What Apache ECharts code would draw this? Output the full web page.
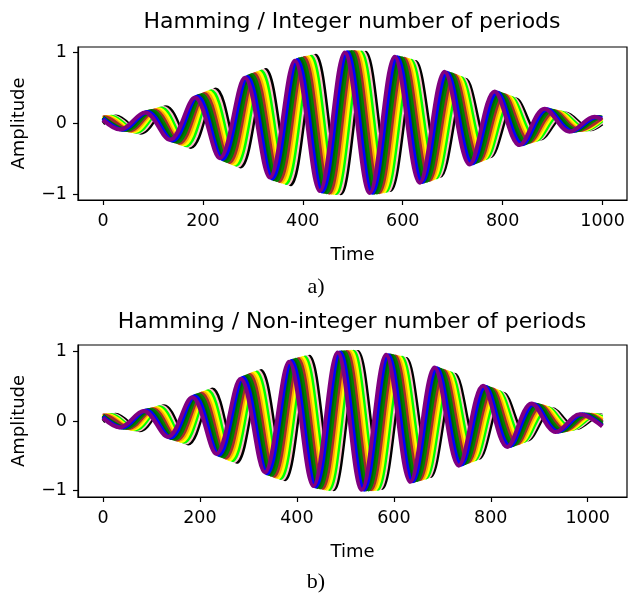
<!DOCTYPE html>
<html><head><meta charset="utf-8">
<script src="https://cdn.jsdelivr.net/npm/echarts@6/dist/echarts.min.js"></script>
<style>html,body{margin:0;padding:0;background:#fff}#c{width:628px;height:601px}</style>
</head><body><div id="c"></div>
<script>
// ---- data ----
const colors = ['#000000','#ffc0cb','#00ff00','#ffff00','#ffa500','#a52a2a','#008000','#006400','#0000ff','#800080'];
const shifts = [42, 37, 33, 28, 23, 19, 14, 9, 5, 0];   // horizontal offset of each curve vs. the purple one
const xTicks = [0, 200, 400, 600, 800, 1000];
const yTicks = [-1, 0, 1];

// (a) integer number of periods
const topEnd = 999;
const topEnvX = [0,50,100,150,200,250,300,350,400,450,500,550,600,650,700,750,800,850,900,950,1000];
const topEnvY = [0.08,0.10,0.17,0.27,0.40,0.54,0.68,0.81,0.91,0.98,1.00,0.98,0.91,0.81,0.68,0.54,0.40,0.27,0.17,0.10,0.08];
const topExtX = [-66,-16,34,84,134,184,234,284,334,384,434,484,534,584,634,684,734,784,834,884,934,984,1034,1084];
const topStartY = [-0.005,0.020,0.039,0.058,0.072,0.079,0.079,0.072,0.062,0.043];
const topEndY   = [-0.010,0.015,0.034,0.055,0.070,0.078,0.080,0.074,0.065,0.047];

// (b) non-integer number of periods
const botEnd = 1030;
const botEnvX = [0,52,103,155,206,258,309,361,412,464,515,566,618,669,721,772,824,875,927,978,1030];
const botEnvY = [0.08,0.10,0.17,0.27,0.40,0.54,0.68,0.81,0.91,0.98,1.00,0.98,0.91,0.81,0.68,0.54,0.40,0.27,0.17,0.10,0.08];
const botExtX = [-66,-16,34,84,134,184,234,284,334,384,434,484,534,584,634,684,734,784,834,884,934,984,1034,1084];
const botStartY = [-0.005,0.020,0.039,0.058,0.072,0.079,0.079,0.072,0.062,0.043];
const botEndY   = [0.078,0.068,0.055,0.034,0.010,-0.010,-0.034,-0.055,-0.068,-0.078];

// ---- build key points (start, extrema, end) for each curve ----
function envAt(envX, envY, x){
  for (let i = 0; i < envX.length - 1; i++) {
    if (x >= envX[i] && x <= envX[i+1]) {
      const t = (x - envX[i]) / (envX[i+1] - envX[i]);
      return envY[i] + t * (envY[i+1] - envY[i]);
    }
  }
  return envY[envY.length-1];
}
function curve(extX, envX, envY, end, s, y0, y1){
  const pts = [[0, y0]];
  for (let i = 0; i < extX.length; i++) {
    const ex = extX[i] + s;
    const sign = (i % 2 === 0) ? -1 : 1;
    if (ex > 0 && ex < end) pts.push([ex, sign * envAt(envX, envY, ex)]);
  }
  pts.push([end, y1]);
  return pts;
}

const FONT = 'DejaVu Sans';
function mkSeries(gridIdx, extX, envX, envY, end, startY, endY){
  return colors.map((c, k) => ({
    type: 'line', xAxisIndex: gridIdx, yAxisIndex: gridIdx,
    data: curve(extX, envX, envY, end, shifts[k], startY[k], endY[k]),
    smooth: 0.36, showSymbol: false, symbol: 'none',
    lineStyle: { color: c, width: 4 }, itemStyle: { color: c },
    animation: false, silent: true
  }));
}
function xAx(gridIdx, min, max){
  return {
    type: 'value', gridIndex: gridIdx, min, max,
    name: 'Time', nameLocation: 'middle', nameGap: 46,
    nameTextStyle: { fontFamily: FONT, fontSize: 18, color: '#000' },
    axisLine: { show: true, onZero: false, lineStyle: { color: '#000', width: 1.2 } },
    axisTick: { show: true, length: 5, customValues: xTicks, lineStyle: { color: '#000', width: 1.2 } },
    axisLabel: { customValues: xTicks, margin: 12, fontFamily: FONT, fontSize: 17.5, color: '#000',
      formatter: v => String(v) },
    splitLine: { show: false }
  };
}
function yAx(gridIdx, min, max){
  return {
    type: 'value', gridIndex: gridIdx, min, max,
    name: 'Amplitude', nameLocation: 'middle', nameGap: 50,
    nameTextStyle: { fontFamily: FONT, fontSize: 18, color: '#000' },
    axisLine: { show: true, onZero: false, lineStyle: { color: '#000', width: 1.2 } },
    axisTick: { show: true, length: 5, customValues: yTicks, lineStyle: { color: '#000', width: 1.2 } },
    axisLabel: { customValues: yTicks, margin: 11, fontFamily: FONT, fontSize: 17.5, color: '#000',
      formatter: v => (v < 0 ? '\u2212' + Math.abs(v) : String(v)) },
    splitLine: { show: false }
  };
}

const chart = echarts.init(document.getElementById('c'), null, { renderer: 'canvas' });
chart.setOption({
  backgroundColor: '#fff',
  animation: false,
  grid: [
    { left: 78, top: 47, width: 549, height: 153, show: true, borderColor: '#000', borderWidth: 1.2, outerBoundsMode: 'none' },
    { left: 78, top: 345, width: 549, height: 152, show: true, borderColor: '#000', borderWidth: 1.2, outerBoundsMode: 'none' }
  ],
  xAxis: [ xAx(0, -50, 1049), xAx(1, -51.5, 1081) ],
  yAxis: [ yAx(0, -1.085, 1.07), yAx(1, -1.097, 1.097) ],
  graphic: [
    { type: 'text', x: 352, y: 11, style: { text: 'Hamming / Integer number of periods', fontFamily: FONT, fontSize: 22, fill: '#000', textAlign: 'center', textVerticalAlign: 'top' } },
    { type: 'text', x: 352, y: 311, style: { text: 'Hamming / Non-integer number of periods', fontFamily: FONT, fontSize: 22, fill: '#000', textAlign: 'center', textVerticalAlign: 'top' } },
    { type: 'text', x: 316, y: 287, style: { text: 'a)', fontFamily: 'Liberation Serif', fontSize: 22, fill: '#000', textAlign: 'center', textVerticalAlign: 'middle' } },
    { type: 'text', x: 316, y: 582, style: { text: 'b)', fontFamily: 'Liberation Serif', fontSize: 22, fill: '#000', textAlign: 'center', textVerticalAlign: 'middle' } }
  ],
  series: [
    ...mkSeries(0, topExtX, topEnvX, topEnvY, topEnd, topStartY, topEndY),
    ...mkSeries(1, botExtX, botEnvX, botEnvY, botEnd, botStartY, botEndY)
  ]
});
</script>
</body></html>
